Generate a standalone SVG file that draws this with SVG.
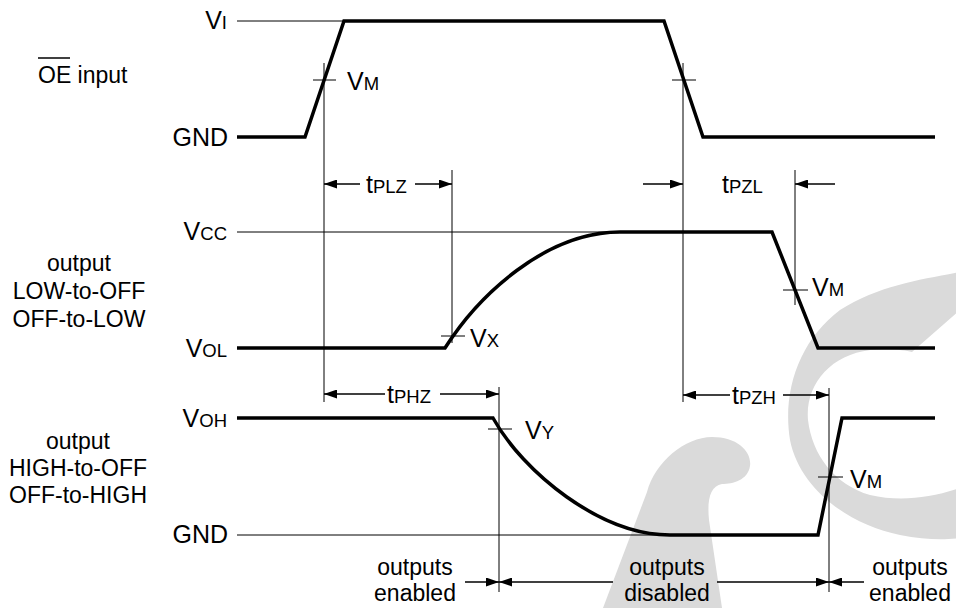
<svg xmlns="http://www.w3.org/2000/svg" width="956" height="608" viewBox="0 0 956 608">
<defs>
<style>
.t{font-family:"Liberation Sans",Arial,Helvetica,sans-serif;fill:#000}
.v{font-size:25px}
.l{font-size:23px}
.s{font-size:18.5px}
.thin{fill:none;stroke:#000;stroke-width:1}
.thick{fill:none;stroke:#000;stroke-width:3.5;stroke-linejoin:miter}
.dim{fill:none;stroke:#000;stroke-width:1.3;marker-end:url(#ah)}
.wm{fill:#dadada;stroke:none}
</style>
<marker id="ah" viewBox="0 0 13 9" refX="13" refY="4.5" markerWidth="13" markerHeight="9" markerUnits="userSpaceOnUse" orient="auto">
<path d="M0,0 L13,4.5 L0,9 Z" fill="#000"/>
</marker>
</defs>
<rect width="956" height="608" fill="#fff"/>
<g id="watermark">
<path class="wm" fill-rule="evenodd" d="M960,272 C920,280 880,285 840,310 C800,340 782,390 790,440 C800,490 850,525 900,535 C925,540 945,540 960,538 Z M960,488 C930,498 900,502 870,495 C835,485 812,455 808,420 C805,385 830,355 870,350 C890,348 905,350 912,352 L960,310 Z"/>
<path class="wm" d="M603,608 L647,492 C655,462 685,437 712,437 C738,437 752,452 750,466 C748,480 733,484 722,484 C710,486 707,500 709,520 L722,608 Z"/>
</g>
<g id="guides">
<line class="thin" x1="237" y1="21" x2="344" y2="21"/>
<line class="thin" x1="237" y1="232" x2="620" y2="232"/>
<line class="thin" x1="237" y1="535" x2="818" y2="535"/>
<line class="thin" x1="324" y1="63" x2="324" y2="402"/>
<line class="thin" x1="452" y1="170" x2="452" y2="343"/>
<line class="thin" x1="499" y1="387" x2="499" y2="592"/>
<line class="thin" x1="683" y1="63" x2="683" y2="402"/>
<line class="thin" x1="795" y1="170" x2="795" y2="305"/>
<line class="thin" x1="829" y1="388" x2="829" y2="592"/>
<line class="thin" x1="313" y1="80" x2="336" y2="80"/>
<line class="thin" x1="672" y1="80" x2="696" y2="80"/>
<line class="thin" x1="441" y1="336" x2="465" y2="336"/>
<line class="thin" x1="783" y1="290" x2="808" y2="290"/>
<line class="thin" x1="488" y1="429" x2="512" y2="429"/>
<line class="thin" x1="818" y1="477" x2="843" y2="477"/>
</g>
<g id="wave-oe">
<path class="thick" d="M237,137 L305,137 L344,21 L664,21 L703,137 L935,137"/>
</g>
<g id="wave-low">
<path class="thick" d="M237,348 L445,348 C478,296 545,232 620,232 L772,232 L818,348 L935,348"/>
</g>
<g id="wave-high">
<path class="thick" d="M237,418 L493,418 C523,472 600,535 670,535 L818,535 L842,418 L935,418"/>
</g>
<g id="connectors">
<line class="dim" x1="360" y1="184" x2="324" y2="184"/>
<line class="dim" x1="415" y1="184" x2="452" y2="184"/>
<line class="dim" x1="643" y1="184" x2="683" y2="184"/>
<line class="dim" x1="835" y1="184" x2="795" y2="184"/>
<line class="dim" x1="385" y1="394" x2="324" y2="394"/>
<line class="dim" x1="440" y1="394" x2="499" y2="394"/>
<line class="dim" x1="730" y1="395" x2="683" y2="395"/>
<line class="dim" x1="783" y1="395" x2="829" y2="395"/>
<line class="dim" x1="465" y1="582" x2="499" y2="582"/>
<line class="dim" x1="613" y1="582" x2="499" y2="582"/>
<line class="dim" x1="717" y1="582" x2="829" y2="582"/>
<line class="dim" x1="864" y1="582" x2="829" y2="582"/>
</g>
<g id="labels">
<text class="t l" x="38" y="83">OE input</text>
<line x1="38" y1="58" x2="70" y2="58" stroke="#000" stroke-width="1.5"/>
<text class="t l" text-anchor="middle" x="79" y="271">output</text>
<text class="t l" text-anchor="middle" x="79" y="299">LOW-to-OFF</text>
<text class="t l" text-anchor="middle" x="79" y="327">OFF-to-LOW</text>
<text class="t l" text-anchor="middle" x="78" y="449">output</text>
<text class="t l" text-anchor="middle" x="78" y="476">HIGH-to-OFF</text>
<text class="t l" text-anchor="middle" x="78" y="503">OFF-to-HIGH</text>
<text class="t v" text-anchor="end" x="227" y="29">V<tspan class="s">I</tspan></text>
<text class="t v" text-anchor="end" x="228" y="146">GND</text>
<text class="t v" text-anchor="end" x="227" y="240">V<tspan class="s">CC</tspan></text>
<text class="t v" text-anchor="end" x="227" y="357">V<tspan class="s">OL</tspan></text>
<text class="t v" text-anchor="end" x="227" y="427">V<tspan class="s">OH</tspan></text>
<text class="t v" text-anchor="end" x="228" y="543">GND</text>
<text class="t v" x="347" y="90">V<tspan class="s">M</tspan></text>
<text class="t v" x="470" y="347">V<tspan class="s">X</tspan></text>
<text class="t v" x="812" y="296">V<tspan class="s">M</tspan></text>
<text class="t v" x="525" y="439">V<tspan class="s">Y</tspan></text>
<text class="t v" x="850" y="488">V<tspan class="s">M</tspan></text>
<text class="t v" x="366" y="193">t<tspan class="s">PLZ</tspan></text>
<text class="t v" x="722" y="193">t<tspan class="s">PZL</tspan></text>
<text class="t v" x="387" y="403">t<tspan class="s">PHZ</tspan></text>
<text class="t v" x="732" y="404">t<tspan class="s">PZH</tspan></text>
<text class="t l" text-anchor="middle" x="415" y="575">outputs</text>
<text class="t l" text-anchor="middle" x="415" y="601">enabled</text>
<text class="t l" text-anchor="middle" x="667" y="575">outputs</text>
<text class="t l" text-anchor="middle" x="667" y="601">disabled</text>
<text class="t l" text-anchor="middle" x="910" y="575">outputs</text>
<text class="t l" text-anchor="middle" x="910" y="601">enabled</text>
</g>
</svg>
